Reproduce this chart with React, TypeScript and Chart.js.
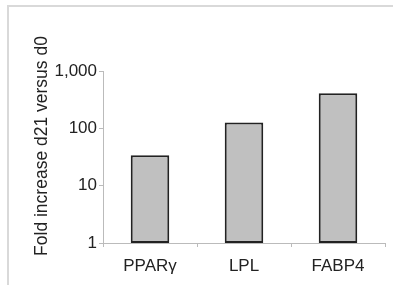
import React, { useEffect, useRef } from "react";
import { Chart, registerables } from "chart.js";

Chart.register(...registerables);

const categories = ["PPARγ", "LPL", "FABP4"];
const foldValues = [34, 127, 410];
const yTickValues = [1, 10, 100, 1000];
const yTitle = "Fold increase d21 versus d0";

const FONT = "'Liberation Sans', Arial, sans-serif";

const yTitlePlugin = {
  id: "yTitlePlugin",
  afterDraw(chart: any) {
    const ctx = chart.ctx;
    ctx.save();
    ctx.translate(47, 146);
    ctx.rotate(-Math.PI / 2);
    ctx.font = `17.5px ${FONT}`;
    ctx.fillStyle = "#222";
    ctx.textAlign = "center";
    ctx.textBaseline = "alphabetic";
    ctx.fillText(yTitle, 0, 0);
    ctx.restore();
  },
};

export default function App() {
  const ref = useRef<HTMLCanvasElement | null>(null);
  useEffect(() => {
    if (!ref.current) return;
    const chart = new Chart(ref.current, {
      type: "bar",
      data: {
        labels: categories,
        datasets: [
          {
            data: foldValues,
            backgroundColor: "#c0c0c0",
            borderColor: "#222222",
            borderWidth: 2,
            borderSkipped: false,
            categoryPercentage: 1,
            barPercentage: 0.41,
          },
        ],
      },
      options: {
        responsive: false,
        animation: false,
        layout: { padding: { left: 0, right: 8, top: 71, bottom: 0 } },
        plugins: { legend: { display: false }, tooltip: { enabled: false } },
        scales: {
          x: {
            grid: {
              display: true,
              drawOnChartArea: false,
              drawTicks: true,
              tickLength: 4,
              color: "#bbbbbb",
              offset: true,
            },
            border: { display: true, color: "#bbbbbb", width: 1 },
            ticks: {
              color: "#222",
              font: { family: FONT, size: 17 },
              padding: 9,
            },
            afterFit(scale: any) {
              scale.height = 42;
            },
          },
          y: {
            type: "logarithmic",
            min: 1,
            max: 1000,
            grid: {
              display: true,
              drawOnChartArea: false,
              drawTicks: true,
              tickLength: 4,
              color: "#bbbbbb",
            },
            border: { display: true, color: "#bbbbbb", width: 1 },
            afterBuildTicks(scale: any) {
              scale.ticks = yTickValues.map((v) => ({ value: v, major: false }));
            },
            ticks: {
              color: "#222",
              font: { family: FONT, size: 17 },
              padding: 2,
              callback: (v: any) => Number(v).toLocaleString("en-US"),
            },
            afterFit(scale: any) {
              scale.width = 103;
            },
          },
        },
      },
      plugins: [yTitlePlugin],
    });
    return () => chart.destroy();
  }, []);
  return (
    <div style={{ position: "fixed", left: 0, top: 0, width: 393, height: 285, background: "#fff", overflow: "hidden" }}>
      <div
        style={{
          position: "absolute",
          left: 7,
          top: 5,
          width: 500,
          height: 400,
          border: "2px solid #d9d9d9",
          boxSizing: "border-box",
        }}
      />
      <canvas ref={ref} width={393} height={285} style={{ position: "absolute", left: 0, top: 0 }} />
    </div>
  );
}
